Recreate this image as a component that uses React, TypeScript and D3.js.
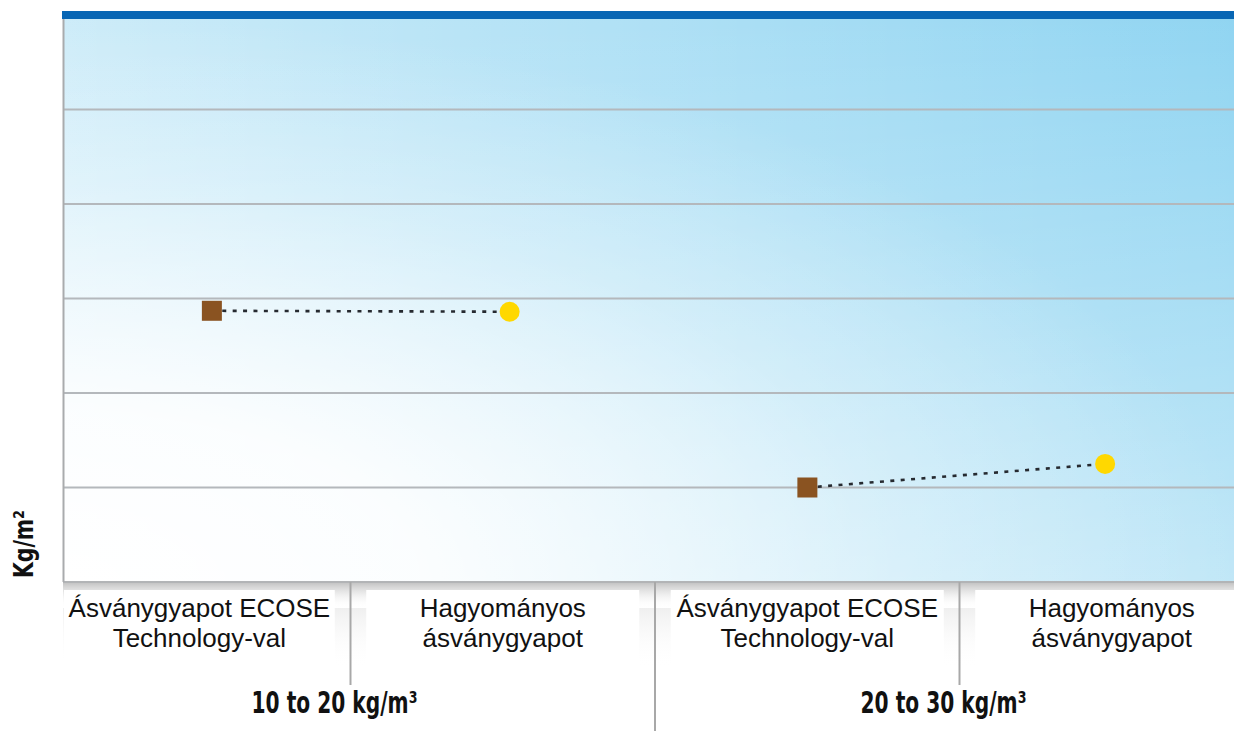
import React, { useEffect } from "react";
import * as d3 from "d3";

// ---- data ----
const densityGroups = ["10 to 20 kg/m³", "20 to 30 kg/m³"];
const productKeys = ["ecose", "traditional"];
const productLabels = [
  ["Ásványgyapot ECOSE", "Technology-val"],
  ["Hagyományos", "ásványgyapot"],
];
const ecoseValues = [2.87, 1.0];
const traditionalValues = [2.86, 1.25];
const yTicks = [0, 1, 2, 3, 4, 5, 6];
const yAxisTitle = "Kg/m²";

// ---- layout ----
const W = 1234;
const H = 731;
const M = { left: 63, right: 1254, top: 15, bottom: 582 };

const positions = densityGroups.flatMap((g) => productKeys.map((p) => `${g}|${p}`));

export default function App() {
  useEffect(() => {
    document.body.style.margin = "0";
  }, []);

  const x = d3.scalePoint<string>().domain(positions).range([M.left, M.right]).padding(0.5);
  const y = d3.scaleLinear().domain([0, 6]).range([M.bottom, M.top]);
  const labelBand = d3.scaleBand<string>().domain(positions).range([46, 1264]);

  const pairs = densityGroups.map((g, i) => ({
    group: g,
    ecose: { x: x(`${g}|ecose`)!, y: y(ecoseValues[i]) },
    trad: { x: x(`${g}|traditional`)!, y: y(traditionalValues[i]) },
  }));

  const line = d3.line<{ x: number; y: number }>().x((d) => d.x).y((d) => d.y);

  const boxW = 273;
  const labelFont = "'Liberation Sans', Arial, Helvetica, sans-serif";
  const condFont =
    "'Liberation Sans Narrow', 'DejaVu Sans Condensed', 'Roboto Condensed', 'Liberation Sans', sans-serif";

  const labelCenter = (p: string) => {
    const c = labelBand(p)! + labelBand.bandwidth() / 2;
    const x0 = Math.max(M.left + 1, c - boxW / 2);
    const x1 = c + boxW / 2;
    return { x0, x1, c: (x0 + x1) / 2 };
  };

  return (
    <svg
      width={W}
      height={H}
      viewBox={`0 0 ${W} ${H}`}
      style={{ display: "block", position: "absolute", left: 0, top: 0, background: "#fff" }}
    >
      <defs>
        <linearGradient id="hWhite" x1="0" y1="0" x2="1" y2="0">
          <stop offset="0" stopColor="#fff" stopOpacity={0.55} />
          <stop offset="1" stopColor="#fff" stopOpacity={0} />
        </linearGradient>
        <linearGradient id="vWhite" x1="0" y1="0" x2="0" y2="1">
          <stop offset="0" stopColor="#fff" stopOpacity={0.03} />
          <stop offset="1" stopColor="#fff" stopOpacity={0.45} />
        </linearGradient>
        <radialGradient id="cornerWhite" cx="0" cy="1" r="1" fx="0" fy="1">
          <stop offset="0" stopColor="#fff" stopOpacity={1} />
          <stop offset="0.3" stopColor="#fff" stopOpacity={0.9} />
          <stop offset="0.7" stopColor="#fff" stopOpacity={0.3} />
          <stop offset="1" stopColor="#fff" stopOpacity={0} />
        </radialGradient>
        <linearGradient id="shadow" x1="0" y1="0" x2="0" y2="1">
          <stop offset="0" stopColor="#b9b9b9" stopOpacity={0.9} />
          <stop offset="1" stopColor="#ffffff" stopOpacity={0} />
        </linearGradient>
      </defs>

      {/* plot background */}
      <g>
        <rect x={M.left} y={M.top} width={M.right - M.left} height={M.bottom - M.top} fill="#8cd3f1" />
        <rect x={M.left} y={M.top} width={M.right - M.left} height={M.bottom - M.top} fill="url(#hWhite)" />
        <rect x={M.left} y={M.top} width={M.right - M.left} height={M.bottom - M.top} fill="url(#vWhite)" />
        <rect x={M.left} y={M.top} width={M.right - M.left} height={M.bottom - M.top} fill="url(#cornerWhite)" />
      </g>

      {/* shadow under plot */}
      <rect x={M.left} y={M.bottom} width={W - M.left} height={26} fill="url(#shadow)" />
      <rect x={M.left} y={M.bottom + 26} width={W - M.left} height={60} fill="url(#shadow)" opacity={0.25} />

      {/* label boxes */}
      {positions.map((p) => {
        const { x0, x1 } = labelCenter(p);
        return <rect key={`box-${p}`} x={x0} y={590} width={x1 - x0} height={75} fill="#fff" />;
      })}

      {/* grid lines */}
      {yTicks.slice(1, -1).map((t) => (
        <line key={t} x1={M.left} x2={W} y1={y(t)} y2={y(t)} stroke="#b4b8bc" strokeWidth={2} />
      ))}
      <line x1={M.left} x2={W} y1={y(0)} y2={y(0)} stroke="#b2b4b6" strokeWidth={2} />
      <line x1={M.left + 0.5} x2={M.left + 0.5} y1={M.top} y2={M.bottom} stroke="#a9abad" strokeWidth={2} />

      {/* top bar */}
      <rect x={M.left - 1} y={y(6) - 4} width={W - M.left + 1} height={8} fill="#0866b4" />

      {/* dividers */}
      {positions.slice(1).map((p, i) => {
        const bx = labelBand(p)!;
        const isGroup = i === 1;
        return (
          <line
            key={`div-${p}`}
            x1={bx}
            x2={bx}
            y1={M.bottom}
            y2={isGroup ? H : 685}
            stroke="#a8a8a8"
            strokeWidth={2}
          />
        );
      })}

      {/* product labels */}
      {positions.map((p, i) => {
        const { c } = labelCenter(p);
        const lines = productLabels[i % 2];
        return (
          <text key={`lbl-${p}`} textAnchor="middle" fontFamily={labelFont} fontSize={26} fill="#111">
            {lines.map((l, j) => (
              <tspan key={j} x={c} y={617 + j * 30}>
                {l}
              </tspan>
            ))}
          </text>
        );
      })}

      {/* group labels */}
      {densityGroups.map((g, i) => {
        const boundary = labelBand(positions[i * 2 + 1])!;
        return (
          <text
            key={`grp-${g}`}
            x={boundary - 16}
            y={713}
            textAnchor="middle"
            fontFamily={condFont}
            fontWeight="bold"
            fontSize={30}
            textLength={166}
            lengthAdjust="spacingAndGlyphs"
            fill="#111"
          >
            {g}
          </text>
        );
      })}

      {/* y-axis title */}
      <text
        transform={`translate(33,544) rotate(-90)`}
        textAnchor="middle"
        fontFamily={condFont}
        fontWeight="bold"
        fontSize={26}
        textLength={68}
        lengthAdjust="spacingAndGlyphs"
        fill="#111"
      >
        {yAxisTitle}
      </text>

      {/* connecting dotted lines and markers */}
      {pairs.map((pr) => (
        <g key={`pair-${pr.group}`}>
          <path
            d={line([pr.ecose, pr.trad])!}
            stroke="#262a30"
            strokeWidth={2.6}
            strokeDasharray="4 6.4"
            fill="none"
          />
          <rect x={pr.ecose.x - 10} y={pr.ecose.y - 10} width={20} height={20} fill="#8a5321" />
          <circle cx={pr.trad.x} cy={pr.trad.y} r={10} fill="#ffd800" />
        </g>
      ))}
    </svg>
  );
}
